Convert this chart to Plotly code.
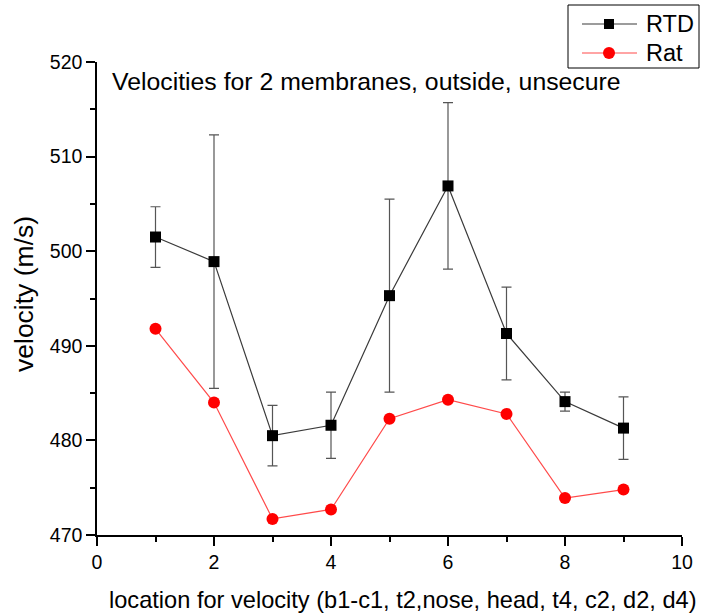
import plotly.graph_objects as go

# location index along the membrane
locations = [1, 2, 3, 4, 5, 6, 7, 8, 9]

# RTD velocity with its spread
rtd_velocity = [501.5, 498.9, 480.5, 481.6, 495.3, 506.9, 491.3, 484.1, 481.3]
rtd_error = [3.2, 13.4, 3.2, 3.5, 10.2, 8.8, 4.9, 1.0, 3.3]

# Rat velocity
rat_velocity = [491.8, 484.0, 471.7, 472.7, 482.3, 484.3, 482.8, 473.9, 474.8]

series_names = ["RTD", "Rat"]

x_ticks = [0, 2, 4, 6, 8, 10]
y_ticks = [470, 480, 490, 500, 510, 520]

font_family = "Liberation Sans, Arial, sans-serif"

W, H = 701, 616
L, R, T, B = 97, 19, 62, 81
PW, PH = W - L - R, H - T - B

RTD_LINE, RTD_MARK = "#3a3a3a", "black"
RAT_LINE, RAT_MARK = "#ff4a4a", "#ff0000"


def px_to_paper(px, py):
    return (px - L) / PW, (H - B - py) / PH


fig = go.Figure()

fig.add_trace(go.Scatter(
    x=locations, y=rtd_velocity, name=series_names[0], mode="lines+markers",
    line=dict(color=RTD_LINE, width=1.2),
    marker=dict(symbol="square", size=11, color=RTD_MARK),
    error_y=dict(type="data", array=rtd_error, visible=True,
                 color="#555555", thickness=1.2, width=5),
))

fig.add_trace(go.Scatter(
    x=locations, y=rat_velocity, name=series_names[1], mode="lines+markers",
    line=dict(color=RAT_LINE, width=1.2),
    marker=dict(symbol="circle", size=12, color=RAT_MARK),
))

# chart heading inside the plotting area
fig.add_annotation(
    text="Velocities for 2 membranes, outside, unsecure",
    xref="paper", yref="paper", x=0.022, y=0.958,
    xanchor="left", yanchor="middle", showarrow=False,
    font=dict(size=24.8, color="black", family=font_family),
)

# axis titles
xt_x, xt_y = px_to_paper(403, 600)
fig.add_annotation(
    text="location for velocity (b1-c1, t2,nose, head, t4, c2, d2, d4)",
    xref="paper", yref="paper", x=xt_x, y=xt_y,
    xanchor="center", yanchor="middle", showarrow=False,
    font=dict(size=23.6, color="black", family=font_family),
)
yt_x, yt_y = px_to_paper(24, 294)
fig.add_annotation(
    text="velocity (m/s)", textangle=-90,
    xref="paper", yref="paper", x=yt_x, y=yt_y,
    xanchor="center", yanchor="middle", showarrow=False,
    font=dict(size=26.5, color="black", family=font_family),
)

# legend box drawn in the top-right corner
bx0, by0 = px_to_paper(568, 68)
bx1, by1 = px_to_paper(699, 5)
fig.add_shape(type="rect", xref="paper", yref="paper",
              x0=bx0, y0=by0, x1=bx1, y1=by1,
              line=dict(color="black", width=1), fillcolor="white")

legend_rows = [
    (series_names[0], 24, RTD_LINE, RTD_MARK, "rect"),
    (series_names[1], 53, RAT_LINE, RAT_MARK, "circle"),
]
for name, row_y, line_col, mark_col, shape_kind in legend_rows:
    lx0, ly = px_to_paper(582, row_y)
    lx1, _ = px_to_paper(637, row_y)
    fig.add_shape(type="line", xref="paper", yref="paper",
                  x0=lx0, y0=ly, x1=lx1, y1=ly,
                  line=dict(color=line_col, width=1.2))
    half = 5 if shape_kind == "rect" else 6
    mx0, my0 = px_to_paper(609 - half, row_y + half)
    mx1, my1 = px_to_paper(609 + half, row_y - half)
    fig.add_shape(type=shape_kind, xref="paper", yref="paper",
                  x0=mx0, y0=my0, x1=mx1, y1=my1,
                  line=dict(color=mark_col, width=0), fillcolor=mark_col)
    tx, ty = px_to_paper(644, row_y)
    fig.add_annotation(text=name, xref="paper", yref="paper", x=tx, y=ty,
                       xanchor="left", yanchor="middle", showarrow=False,
                       font=dict(size=23.5, color="black", family=font_family))

axis_common = dict(
    showgrid=False, zeroline=False, showline=True, linecolor="black",
    linewidth=1.5, ticks="outside", ticklen=9, tickwidth=1.5,
    tickcolor="black", tickfont=dict(size=19.5, color="black"),
    mirror=False, automargin=False,
)

fig.update_xaxes(
    range=[0, 10], tickvals=x_ticks, **axis_common,
    minor=dict(ticks="outside", ticklen=5, tickwidth=1.5,
               tickcolor="black", dtick=1, tick0=0),
)
fig.update_yaxes(
    range=[470, 520], tickvals=y_ticks, **axis_common,
    minor=dict(ticks="outside", ticklen=5, tickwidth=1.5,
               tickcolor="black", dtick=5, tick0=470),
)

fig.update_layout(
    width=W, height=H,
    margin=dict(l=L, r=R, t=T, b=B, autoexpand=False),
    paper_bgcolor="white", plot_bgcolor="white",
    font=dict(family=font_family, color="black"),
    showlegend=False,
)

fig.write_html("out.html")
